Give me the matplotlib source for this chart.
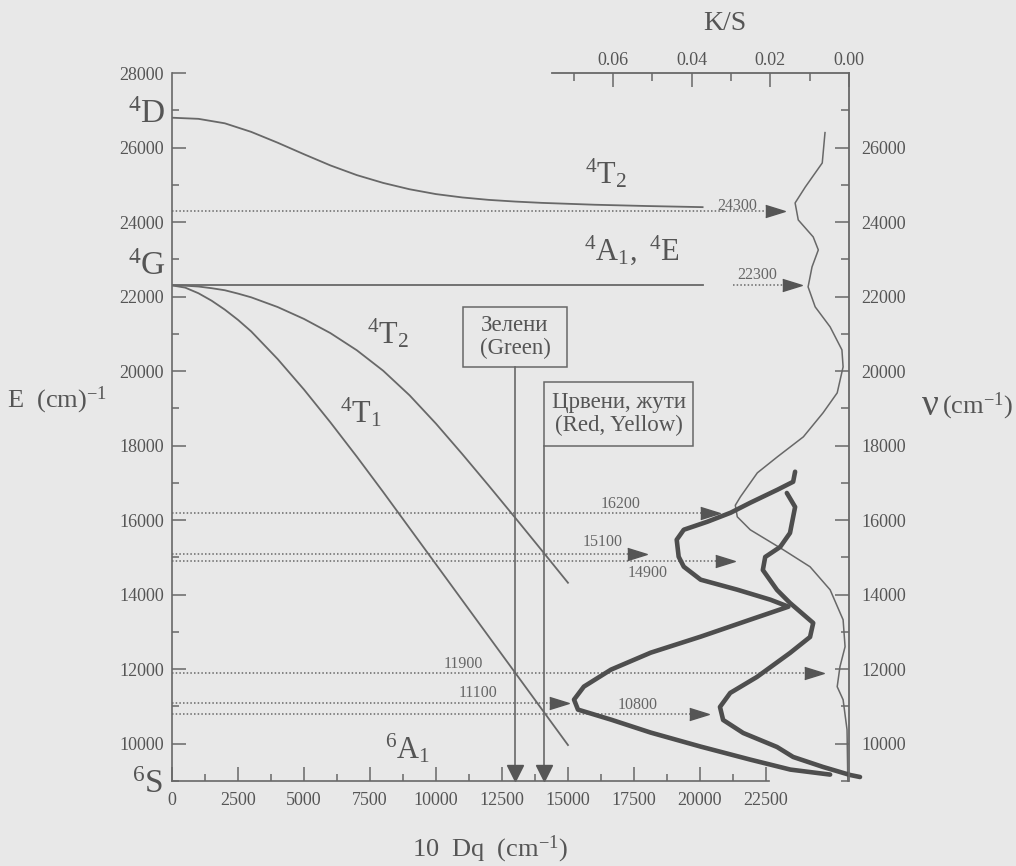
import matplotlib
matplotlib.use('Agg')
import matplotlib.pyplot as plt
from matplotlib.patches import Rectangle
from matplotlib.ticker import FixedLocator, FormatStrFormatter

plt.rcParams['font.family'] = ['Liberation Serif', 'DejaVu Serif']
plt.rcParams['mathtext.fontset'] = 'custom'
plt.rcParams['mathtext.rm'] = 'Liberation Serif'
plt.rcParams['mathtext.it'] = 'Liberation Serif:italic'
plt.rcParams['mathtext.bf'] = 'Liberation Serif:bold'

# ---------------- data ----------------
# energy levels E (cm-1) versus 10Dq (cm-1)
t2_upper_dq = [0, 1000, 2000, 3000, 4000, 5000, 6000, 7000, 8000, 9000, 10000, 11000, 12000,
               13000, 14000, 16000, 18000, 20100]
t2_upper_E = [26800, 26770, 26650, 26420, 26130, 25820, 25520, 25260, 25050, 24880, 24750,
              24660, 24595, 24550, 24515, 24465, 24430, 24400]

a1e_dq = [0, 20100]
a1e_E = [22300, 22300]

t2_lower_dq = [0, 500, 1000, 1500, 2000, 2500, 3000, 4000, 5000, 6000, 7000, 8000, 9000,
               10000, 11000, 12000, 13000, 14000, 15000]
t2_lower_E = [22300, 22292, 22270, 22225, 22170, 22080, 21980, 21720, 21400, 21020, 20560,
              20010, 19350, 18590, 17770, 16925, 16065, 15195, 14320]

t1_dq = [0, 500, 1000, 1500, 2000, 2500, 3000, 4000, 5000, 6000, 7000, 8000, 9000, 10000,
         11000, 12000, 13000, 14000, 15000]
t1_E = [22300, 22240, 22090, 21890, 21650, 21375, 21065, 20325, 19505, 18625, 17705, 16755,
        15785, 14815, 13845, 12875, 11905, 10935, 9965]

# reflectance spectra: K/S versus wavenumber (cm-1)
thin_ks = [0.0061, 0.0068, 0.0111, 0.0137, 0.0129, 0.0091, 0.0078, 0.0094, 0.0104, 0.0086,
           0.0048, 0.0018, 0.0015, 0.0030, 0.0066, 0.0116, 0.0182, 0.0233, 0.0276, 0.0289,
           0.0284, 0.0251, 0.0167, 0.0099, 0.0048, 0.0015, 0.0010, 0.0023, 0.0030, 0.0015,
           0.0005, 0.0003]
thin_nu = [26400, 25586, 24942, 24513, 24057, 23601, 23252, 22796, 22260, 21724,
           21187, 20570, 20114, 19416, 18880, 18236, 17700, 17270, 16627, 16400,
           16090, 15741, 15205, 14749, 14131, 13327, 12603, 12067, 11530, 11181,
           10376, 9000]

thick1_ks = [0.0137, 0.0142, 0.0182, 0.0251, 0.0301, 0.0360, 0.0420, 0.0438, 0.0433, 0.0420,
             0.0377, 0.0284, 0.0200, 0.0154, 0.0251, 0.0377, 0.0504, 0.0605, 0.0674, 0.0699,
             0.0689, 0.0605, 0.0504, 0.0377, 0.0251, 0.0149, 0.0048]
thick1_nu = [17300, 17030, 16816, 16467, 16199, 15958, 15743, 15475, 15019, 14751,
             14402, 14134, 13866, 13678, 13330, 12874, 12444, 11989, 11533, 11184,
             10916, 10647, 10299, 9923, 9574, 9306, 9172]

thick2_ks = [0.0158, 0.0137, 0.0150, 0.0175, 0.0213, 0.0219, 0.0201, 0.0183, 0.0150, 0.0091,
             0.0099, 0.0150, 0.0234, 0.0302, 0.0328, 0.0320, 0.0269, 0.0183, 0.0142, 0.0066,
             -0.0003, -0.0028]
thick2_nu = [16729, 16354, 15656, 15280, 15012, 14663, 14395, 14127, 13778, 13241,
             12865, 12436, 11792, 11363, 10987, 10638, 10289, 9913, 9645, 9377,
             9161, 9107]

# transitions marked with dotted lines: value, line start (10Dq), arrow position (10Dq),
# label position (10Dq, E)
trans_values = [24300, 22300, 16200, 15100, 14900, 11900, 11100, 10800]
trans_start = [0, 21250, 0, 0, 0, 0, 0, 0]
trans_arrow = [22843, 23487, 20380, 17615, 20948, 24320, 14660, 19964]
trans_label_x = [21403, 22161, 17009, 16327, 18032, 11024, 11592, 17653]
trans_label_y = [24431, 22579, 16434, 15414, 14582, 12140, 11361, 11039]

# colour markers (10Dq)
green_dq = 13000
red_dq = 14100

# ---------------- styles ----------------
BG = '#e8e8e8'
LINE = '#686868'
TEXT = '#555555'
THICK = '#4e4e4e'

W, H = 1016, 866
fig = plt.figure(figsize=(W / 100, H / 100), dpi=100)
fig.patch.set_facecolor(BG)


def frame(x0, y0, x1, y1):
    return [x0 / W, 1 - y1 / H, (x1 - x0) / W, (y1 - y0) / H]


ax1 = fig.add_axes(frame(172, 73, 768.6, 781))
ax2 = fig.add_axes(frame(552, 73, 849, 781))
for ax in (ax1, ax2):
    ax.set_facecolor('none')
    ax.set_ylim(9000, 28000)

# ---- main energy-level axes ----
ax1.set_xlim(0, 22600)
ax1.spines['top'].set_visible(False)
ax1.spines['right'].set_visible(False)
for s in ('left', 'bottom'):
    ax1.spines[s].set_color(LINE)
    ax1.spines[s].set_linewidth(1.2)
ax1.xaxis.set_major_locator(FixedLocator(list(range(0, 22501, 2500))))
ax1.xaxis.set_minor_locator(FixedLocator(list(range(1250, 22501, 2500))))
ax1.yaxis.set_major_locator(FixedLocator(list(range(10000, 28001, 2000))))
ax1.yaxis.set_minor_locator(FixedLocator(list(range(9000, 28000, 2000))))
ax1.tick_params(axis='both', which='both', direction='in', color=LINE, labelcolor=TEXT,
                labelsize=13, width=1.1)
ax1.tick_params(axis='both', which='major', length=10)
ax1.tick_params(axis='both', which='minor', length=5)
ax1.tick_params(axis='y', pad=6)
ax1.tick_params(axis='x', pad=8)

ax1.set_xlabel(r'10  Dq  (cm$^{-1}$)', fontsize=19, color=TEXT)
ax1.xaxis.set_label_coords(0.533, -0.074)
ax1.set_ylabel(r'E  (cm)$^{-1}$', fontsize=19, color=TEXT, rotation=0, ha='left', va='center')
ax1.yaxis.set_label_coords(-0.277, 0.538)

lw_lvl = 1.3
ax1.plot(t2_upper_dq, t2_upper_E, color=LINE, lw=lw_lvl)
ax1.plot(a1e_dq, a1e_E, color=LINE, lw=lw_lvl)
ax1.plot(t2_lower_dq, t2_lower_E, color=LINE, lw=lw_lvl)
ax1.plot(t1_dq, t1_E, color=LINE, lw=lw_lvl)

# dotted transition lines with arrows
arrow_r = [(-1, -0.62), (1, 0), (-1, 0.62)]
for v, x0, xa, lx, ly in zip(trans_values, trans_start, trans_arrow, trans_label_x, trans_label_y):
    ax1.plot([x0, xa], [v, v], color=LINE, lw=1.1, ls=(0, (1, 1.4)), clip_on=False)
    ax1.plot([xa], [v], marker=arrow_r, markersize=14, color='#555555', ls='none',
             clip_on=False, zorder=5)
    ax1.text(lx, ly, str(v), fontsize=11.5, color='#666666', ha='center', va='center')

# colour boxes and vertical lines
green_box = (11023, 20110, 14963, 21720)
red_box = (red_dq, 17990, 19736, 19708)
for (bx0, by0, bx1, by1), txt, xl in ((green_box, 'Зелени\n(Green)', green_dq),
                                      (red_box, 'Црвени, жути\n(Red, Yellow)', red_dq)):
    ax1.add_patch(Rectangle((bx0, by0), bx1 - bx0, by1 - by0, fill=False,
                            ec=LINE, lw=1.1, zorder=3))
    ax1.text((bx0 + bx1) / 2, (by0 + by1) / 2, txt, fontsize=16.5, color=TEXT,
             ha='center', va='center', linespacing=1.1)
    ax1.plot([xl, xl], [by0, 9000], color=LINE, lw=1.2)
    ax1.plot([xl], [9210], marker='v', markersize=11, color='#555555', ls='none', clip_on=False)

# term symbols
term_kw = dict(color=TEXT, va='baseline')
ax1.text(-227, 26658, r'$^{4}\mathrm{D}$', fontsize=24, ha='right', **term_kw)
ax1.text(-227, 22579, r'$^{4}\mathrm{G}$', fontsize=24, ha='right', **term_kw)
ax1.text(-340, 8678, r'$^{6}\mathrm{S}$', fontsize=24, ha='right', **term_kw)
ax1.text(15645, 25048, r'$^{4}\mathrm{T}_{2}$', fontsize=22, ha='left', **term_kw)
ax1.text(15607, 22982, r'$^{4}\mathrm{A}_{1},\ {}^{4}\mathrm{E}$', fontsize=22, ha='left', **term_kw)
ax1.text(7387, 20754, r'$^{4}\mathrm{T}_{2}$', fontsize=22, ha='left', **term_kw)
ax1.text(6364, 18634, r'$^{4}\mathrm{T}_{1}$', fontsize=22, ha='left', **term_kw)
ax1.text(8069, 9617, r'$^{6}\mathrm{A}_{1}$', fontsize=22, ha='left', **term_kw)

# ---- K/S spectrum axes ----
ax2.set_xlim(0.0755, 0)
ax2.spines['left'].set_visible(False)
ax2.spines['bottom'].set_visible(False)
for s in ('top', 'right'):
    ax2.spines[s].set_color(LINE)
    ax2.spines[s].set_linewidth(1.3)
ax2.xaxis.tick_top()
ax2.yaxis.tick_right()
ax2.xaxis.set_major_locator(FixedLocator([0.0, 0.02, 0.04, 0.06]))
ax2.xaxis.set_minor_locator(FixedLocator([0.01, 0.03, 0.05, 0.07]))
ax2.xaxis.set_major_formatter(FormatStrFormatter('%.2f'))
ax2.yaxis.set_major_locator(FixedLocator(list(range(10000, 26001, 2000))))
ax2.yaxis.set_minor_locator(FixedLocator(list(range(9000, 28000, 2000))))
ax2.tick_params(axis='both', which='both', direction='in', color=LINE, labelcolor=TEXT,
                labelsize=13, width=1.1, bottom=False, left=False)
ax2.tick_params(axis='both', which='major', length=10)
ax2.tick_params(axis='both', which='minor', length=6)
ax2.tick_params(axis='x', pad=3)
ax2.tick_params(axis='y', pad=9)

ax2.xaxis.set_label_position('top')
ax2.set_xlabel('K/S', fontsize=20, color=TEXT)
ax2.xaxis.set_label_coords(0.582, 1.061)

ax2.text(922 / W, 1 - 406 / H, 'ν', fontsize=27, color=TEXT, ha='left', va='center',
         transform=fig.transFigure)
ax2.text(942 / W, 1 - 406 / H, r'(cm$^{-1}$)', fontsize=19, color=TEXT, ha='left', va='center',
         transform=fig.transFigure)

ax2.plot(thin_ks, thin_nu, color=LINE, lw=1.1, clip_on=False)
ax2.plot(thick1_ks, thick1_nu, color=THICK, lw=3.3, clip_on=False, solid_capstyle='round')
ax2.plot(thick2_ks, thick2_nu, color=THICK, lw=3.3, clip_on=False, solid_capstyle='round')

fig.savefig('out.png', dpi=100, facecolor=BG)
